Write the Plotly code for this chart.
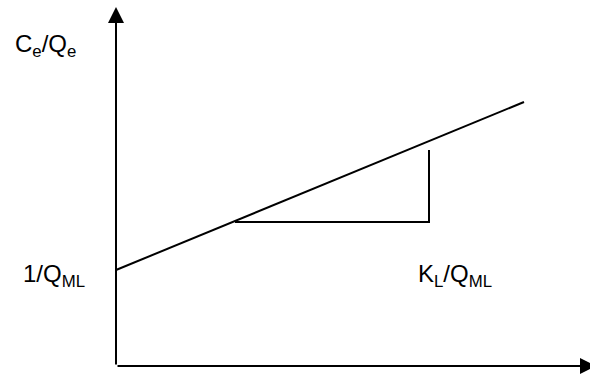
import plotly.graph_objects as go

# Schematic Langmuir linearisation (arbitrary units; origin at the axes' corner)
line_x = [0.0, 40.8]
line_y = [9.6, 26.4]

tri_x = [11.9, 31.3, 31.3]
tri_y = [14.4, 14.4, 21.6]

x_axis_end = 48.0
y_axis_end = 35.9

label_y_text = "C<sub>e</sub>/Q<sub>e</sub>"
label_intercept = "1/Q<sub>ML</sub>"
label_slope = "K<sub>L</sub>/Q<sub>ML</sub>"

FONT = "Liberation Sans, Arial, sans-serif"

fig = go.Figure()
fig.add_trace(go.Scatter(x=line_x, y=line_y, mode="lines",
                         line=dict(color="black", width=2), hoverinfo="skip"))
fig.add_trace(go.Scatter(x=tri_x, y=tri_y, mode="lines",
                         line=dict(color="black", width=2), hoverinfo="skip"))

# axes drawn as arrows
for (hx, hy) in [(x_axis_end, 0.0), (0.0, y_axis_end)]:
    fig.add_annotation(x=hx, y=hy, ax=0.0, ay=0.0, xref="x", yref="y",
                       axref="x", ayref="y", text="", showarrow=True,
                       arrowhead=2, arrowsize=1.6, arrowwidth=2,
                       arrowcolor="black", standoff=0, startstandoff=0)

fig.add_annotation(x=-10.3, y=32.1, xref="x", yref="y", text=label_y_text,
                   showarrow=False, xanchor="left", yanchor="middle",
                   font=dict(family=FONT, size=24, color="black"))
fig.add_annotation(x=-9.5, y=9.05, xref="x", yref="y", text=label_intercept,
                   showarrow=False, xanchor="left", yanchor="middle",
                   font=dict(family=FONT, size=24, color="black"))
fig.add_annotation(x=30.0, y=9.05, xref="x", yref="y", text=label_slope,
                   showarrow=False, xanchor="left", yanchor="middle",
                   font=dict(family=FONT, size=24, color="black"))

fig.update_layout(
    width=600, height=376,
    margin=dict(l=0, r=0, t=0, b=0),
    paper_bgcolor="white", plot_bgcolor="white",
    showlegend=False,
    xaxis=dict(range=[-11.6, 48.4], visible=False, fixedrange=True),
    yaxis=dict(range=[-1.0, 36.6], visible=False, fixedrange=True),
)

fig.write_html("out.html", config={"displayModeBar": False},
               post_script="document.body.style.margin='0';document.body.style.overflow='hidden';")
